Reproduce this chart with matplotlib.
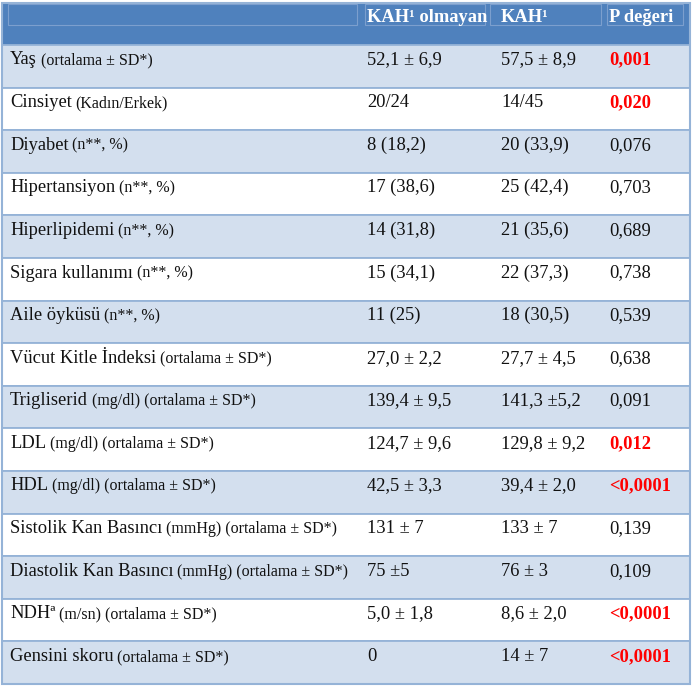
import matplotlib
matplotlib.use("Agg")
import matplotlib.pyplot as plt
from matplotlib.patches import Rectangle

plt.rcParams['font.family'] = ['Liberation Serif', 'DejaVu Serif']

columns = ["", "KAH¹ olmayan", "KAH¹", "P değeri"]
row_names = ["Yaş", "Cinsiyet", "Diyabet", "Hipertansiyon", "Hiperlipidemi",
             "Sigara kullanımı", "Aile öyküsü", "Vücut Kitle İndeksi", "Trigliserid",
             "LDL", "HDL", "Sistolik Kan Basıncı", "Diastolik Kan Basıncı", "NDHª",
             "Gensini skoru"]
row_units = ["(ortalama ± SD*)", "(Kadın/Erkek)", "(n**, %)", "(n**, %)", "(n**, %)",
             "(n**, %)", "(n**, %)", "(ortalama ± SD*)", "(mg/dl) (ortalama ± SD*)",
             "(mg/dl) (ortalama ± SD*)", "(mg/dl) (ortalama ± SD*)",
             "(mmHg) (ortalama ± SD*)", "(mmHg) (ortalama ± SD*)",
             "(m/sn) (ortalama ± SD*)", "(ortalama ± SD*)"]
kah_olmayan = ["52,1 ± 6,9", "20/24", "8 (18,2)", "17 (38,6)", "14 (31,8)", "15 (34,1)",
               "11 (25)", "27,0 ± 2,2", "139,4 ± 9,5", "124,7 ± 9,6", "42,5 ± 3,3",
               "131 ± 7", "75 ±5", "5,0 ± 1,8", "0"]
kah = ["57,5 ± 8,9", "14/45", "20 (33,9)", "25 (42,4)", "21 (35,6)", "22 (37,3)",
       "18 (30,5)", "27,7 ± 4,5", "141,3 ±5,2", "129,8 ± 9,2", "39,4 ± 2,0",
       "133 ± 7", "76 ± 3", "8,6 ± 2,0", "14 ± 7"]
p_degeri = ["0,001", "0,020", "0,076", "0,703", "0,689", "0,738", "0,539", "0,638",
            "0,091", "0,012", "<0,0001", "0,139", "0,109", "<0,0001", "<0,0001"]
anlamli = [True, True, False, False, False, False, False, False,
           False, True, True, False, False, True, True]

header_col = '#4F81BD'
light_col = '#D3DFEE'
line_col = '#95B3D7'

fig = plt.figure(figsize=(6.92, 6.88), dpi=100)
ax = fig.add_axes([0, 0, 1, 1])
ax.set_xlim(0, 692)
ax.set_ylim(688, 0)
ax.axis('off')

left, right = 2, 690
top, head_h = 3, 42
row_h = 42.6
col_x = [10, 367, 501, 609]
main_fs, small_fs = 13.3, 11.5

# header
ax.add_patch(Rectangle((left, top), right - left, head_h, facecolor=header_col, edgecolor='none'))
for x0, x1 in [(8, 357), (365, 485), (490, 601), (607, 683)]:
    ax.add_patch(Rectangle((x0, top + 1), x1 - x0, 21, facecolor='none',
                           edgecolor='#7C9FCE', lw=0.8))
for x, lab in zip(col_x, columns):
    ax.text(x, top + 19, lab, fontsize=main_fs, fontweight='bold', color='white', va='baseline')

fig.canvas.draw()
renderer = fig.canvas.get_renderer()
inv = ax.transData.inverted()

y0 = top + head_h
for i in range(len(row_names)):
    ytop = y0 + i * row_h
    fc = light_col if i % 2 == 0 else 'white'
    ax.add_patch(Rectangle((left, ytop), right - left, row_h, facecolor=fc,
                           edgecolor=line_col, lw=1.3))
    base = ytop + 19.5
    t = ax.text(col_x[0], base, row_names[i], fontsize=main_fs, color='#111111', va='baseline')
    bb = t.get_window_extent(renderer)
    xe = inv.transform((bb.x1, bb.y0))[0]
    ax.text(xe + 3.8, base, row_units[i], fontsize=small_fs, color='#111111', va='baseline')
    ax.text(col_x[1], base, kah_olmayan[i], fontsize=main_fs, color='#111111', va='baseline')
    ax.text(col_x[2], base, kah[i], fontsize=main_fs, color='#111111', va='baseline')
    if anlamli[i]:
        ax.text(col_x[3], base, p_degeri[i], fontsize=main_fs, color='#FF0000',
                fontweight='bold', va='baseline')
    else:
        ax.text(col_x[3], base, p_degeri[i], fontsize=main_fs, color='#111111', va='baseline')

# outer border
ax.add_patch(Rectangle((left, top), right - left, y0 + len(row_names) * row_h - top,
                       facecolor='none', edgecolor=line_col, lw=1.5))

fig.savefig('out.png', dpi=100)
